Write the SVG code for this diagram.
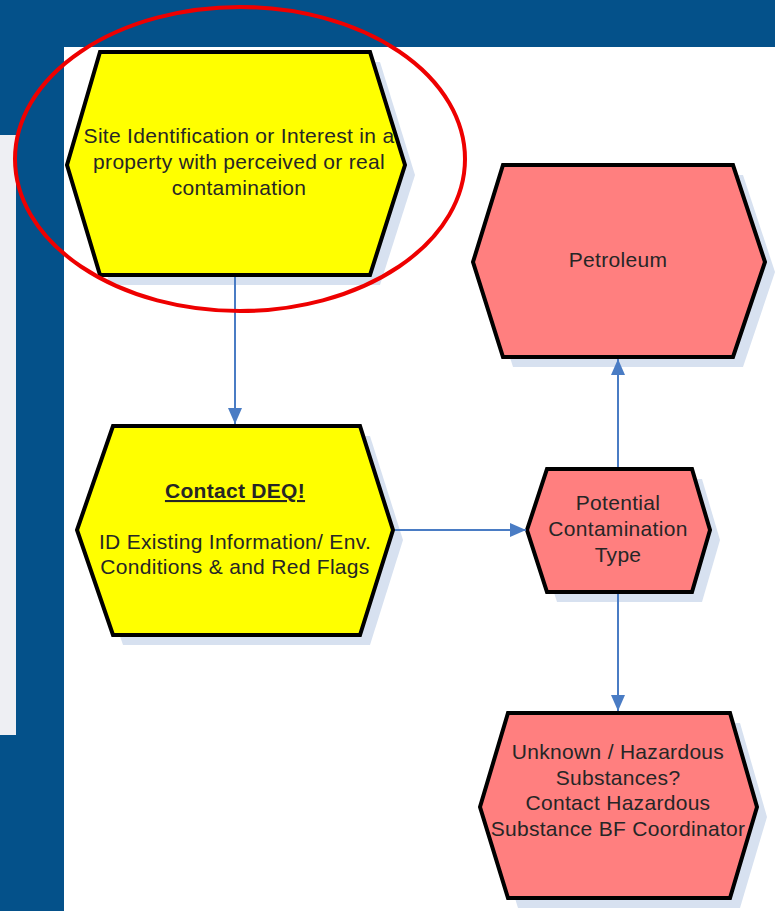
<svg xmlns="http://www.w3.org/2000/svg" width="775" height="911" viewBox="0 0 775 911">
  <style>
    .hex { stroke: #000; stroke-width: 4; stroke-linejoin: miter; }
    .yellow { fill: #ffff00; }
    .red { fill: #ff7f7f; }
    .shadow { fill: #d7e1f0; }
    .label { font-family: "Liberation Sans", Arial, sans-serif; font-size: 21px; letter-spacing: 0.3px; fill: #262626; text-anchor: middle; }
    .conn { stroke: #4a7cc4; stroke-width: 2; fill: none; }
  </style>
  <defs>
    <marker id="arrow" viewBox="0 0 16 16" refX="16" refY="8" markerWidth="16" markerHeight="16" markerUnits="userSpaceOnUse" orient="auto">
      <path d="M0,1 L16,8 L0,15 Z" fill="#4a7cc4"/>
    </marker>
  </defs>

  <!-- slide background -->
  <rect x="0" y="0" width="775" height="911" fill="#04518a"/>
  <rect x="0" y="135" width="16" height="600" fill="#eeeff3"/>
  <rect x="64" y="47" width="711" height="864" fill="#ffffff"/>

  <!-- start node -->
  <g id="site-identification">
    <polygon class="shadow" points="110,62 380,62 415,175 380,285 110,285 77,175"/>
    <polygon class="hex yellow" points="100,52 370,52 405,165 370,275 100,275 67,165"/>
    <text class="label" x="239" y="143">Site Identification or Interest in a</text>
    <text class="label" x="239" y="169">property with perceived or real</text>
    <text class="label" x="239" y="195">contamination</text>
  </g>

  <!-- contact DEQ node -->
  <g id="contact-deq">
    <polygon class="shadow" points="123,436 370,436 403,540 370,645 123,645 87,540"/>
    <polygon class="hex yellow" points="113,426 360,426 393,530 360,635 113,635 77,530"/>
    <text class="label" x="235" y="498" font-weight="bold" text-decoration="underline">Contact DEQ!</text>
    <text class="label" x="235" y="549">ID Existing Information/ Env.</text>
    <text class="label" x="235" y="574">Conditions &amp; and Red Flags</text>
  </g>

  <!-- petroleum node -->
  <g id="petroleum">
    <polygon class="shadow" points="513,175 743,175 775,272 743,367 513,367 483,272"/>
    <polygon class="hex red" points="503,165 733,165 765,262 733,357 503,357 473,262"/>
    <text class="label" x="618" y="267">Petroleum</text>
  </g>

  <!-- contamination type node -->
  <g id="contamination-type">
    <polygon class="shadow" points="557,479 702,479 720,540 702,602 557,602 537,540"/>
    <polygon class="hex red" points="547,469 692,469 710,530 692,592 547,592 527,530"/>
    <text class="label" x="618" y="510">Potential</text>
    <text class="label" x="618" y="536">Contamination</text>
    <text class="label" x="618" y="562">Type</text>
  </g>

  <!-- hazardous substances node -->
  <g id="hazardous-substances">
    <polygon class="shadow" points="518,723 740,723 767,817 740,908 518,908 490,817"/>
    <polygon class="hex red" points="508,713 730,713 757,807 730,898 508,898 480,807"/>
    <text class="label" x="618" y="759">Unknown / Hazardous</text>
    <text class="label" x="618" y="785">Substances?</text>
    <text class="label" x="618" y="810">Contact Hazardous</text>
    <text class="label" x="618" y="836">Substance BF Coordinator</text>
  </g>

  <!-- connectors -->
  <g id="connectors">
    <line class="conn" x1="235" y1="277" x2="235" y2="424" marker-end="url(#arrow)"/>
    <line class="conn" x1="395" y1="530" x2="526" y2="530" marker-end="url(#arrow)"/>
    <line class="conn" x1="618" y1="467" x2="618" y2="359" marker-end="url(#arrow)"/>
    <line class="conn" x1="618" y1="594" x2="618" y2="711" marker-end="url(#arrow)"/>
  </g>

  <!-- highlight around the start node -->
  <ellipse cx="240" cy="159" rx="225" ry="152" fill="none" stroke="#ee0000" stroke-width="4"/>
</svg>
